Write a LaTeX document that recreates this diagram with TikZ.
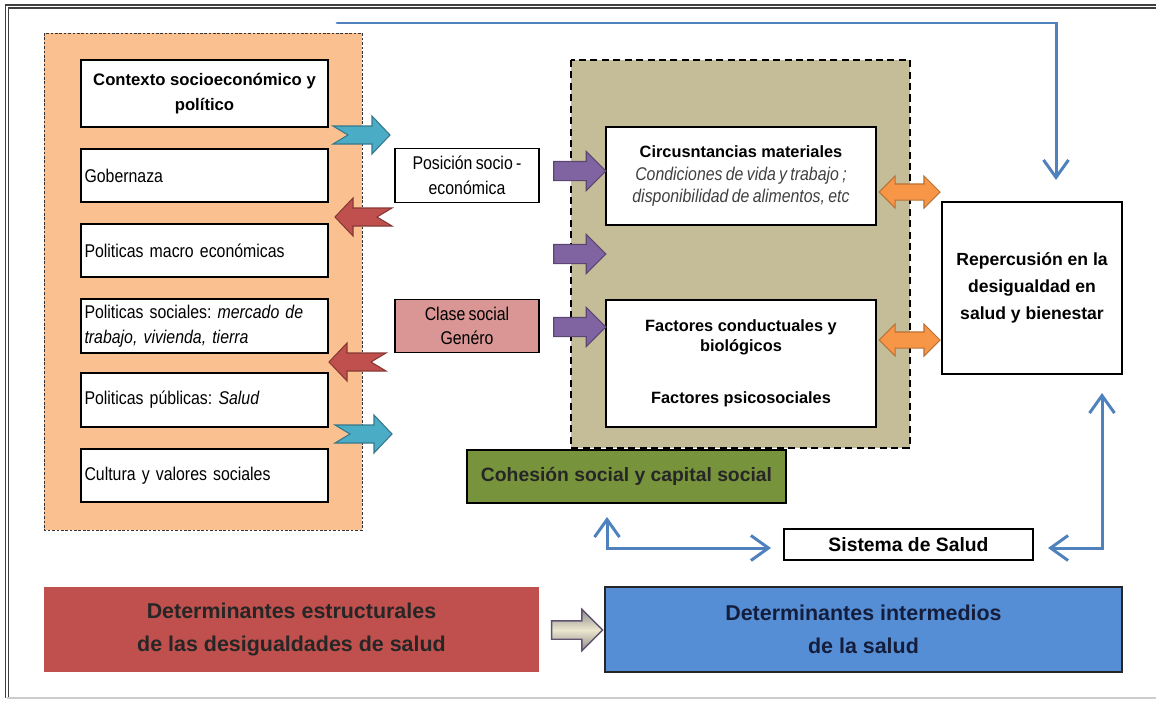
\documentclass[tikz,border=0pt]{standalone}
\usepackage{fontspec}
\setmainfont{Liberation Sans}
\newfontfamily\narrowfont[FakeStretch=0.86,WordSpace=0.75]{Liberation Sans}
\newcommand\detailfont{\mdseries\itshape\narrowfont\fontsize{10.5}{14}\selectfont\color{black!75}}
\usetikzlibrary{shapes.arrows,arrows.meta}

\definecolor{panelorange}{RGB}{250,192,143}
\definecolor{paneltan}{RGB}{196,189,151}
\definecolor{arrowteal}{RGB}{75,172,198}
\definecolor{arrowred}{RGB}{192,80,77}
\definecolor{arrowpurple}{RGB}{128,100,162}
\definecolor{arroworange}{RGB}{247,150,70}
\definecolor{classpink}{RGB}{217,150,148}
\definecolor{cohesiongreen}{RGB}{119,147,60}
\definecolor{intermblue}{RGB}{85,142,213}
\definecolor{flowblue}{RGB}{79,129,189}

\begin{document}
\begin{tikzpicture}[
    x=0.02cm, y=-0.02cm,
    box/.style={draw, line width=1.1pt, fill=white, inner sep=2pt},
    leftbox/.style={box, text width=4.8cm, minimum height=1.07cm, align=left,
      font=\narrowfont\fontsize{10.5}{14}\selectfont\frenchspacing},
    smallbox/.style={draw, line width=0.8pt, minimum width=2.88cm,
      minimum height=1.07cm, align=center, inner sep=1pt,
      font=\narrowfont\fontsize{10.5}{14}\selectfont},
    bigbox/.style={draw=none, minimum height=1.7cm, align=center,
      font=\bfseries\fontsize{12.2}{18.7}\selectfont},
    notch arrow/.pic={
      \draw[pic actions, line width=0.6pt]
        (-28.5,-9) -- (10.5,-9) -- (10.5,-19) -- (28.5,0) -- (10.5,19)
        -- (10.5,9) -- (-28.5,9) -- (-13.5,0) -- cycle;
    },
    purplearrow/.style={single arrow, draw=arrowpurple!70!black, fill=arrowpurple,
      line width=0.6pt, inner xsep=0pt, inner ysep=0.18cm, minimum height=1.04cm,
      single arrow head extend=0.2cm},
    orangearrow/.style={double arrow, draw=arroworange!75!black, fill=arroworange,
      line width=0.6pt, inner xsep=0pt, inner ysep=0.15cm, minimum height=1.22cm,
      double arrow head extend=0.16cm},
    flow/.style={draw=flowblue, line width=1.7pt, line cap=round,
      arrows={-Straight Barb[length=3.5mm,width=5mm]}},
    bothflow/.style={flow, arrows={Straight Barb[length=3.5mm,width=5mm]-Straight Barb[length=3.5mm,width=5mm]}}
  ]
    \useasboundingbox (0,0) rectangle (1156,700);

    % frame
    \draw[black!75, double, double distance=1.1pt, line width=0.6pt]
      (1156,6.5) -- (7,6.5) -- (7,698);
    \draw[black!20, line width=0.8pt] (7,698) -- (1156,698);

    % panels
    \draw[fill=panelorange, draw=black!80, line width=0.5pt,
      dash pattern=on 1.5pt off 1pt] (44,33) rectangle (362,530);
    \draw[fill=paneltan, line width=1pt, dash pattern=on 4pt off 2.5pt]
      (571,60) rectangle (910,448);

    % structural column
    \node[box, minimum width=4.94cm, minimum height=1.34cm, align=center,
      font=\bfseries\fontsize{9.5}{14}\selectfont] (ctx) at (204.5,93.5)
      {Contexto socioeconómico y\\político};
    \node[leftbox] (gob) at (204.5,175.5) {Gobernaza};
    \node[leftbox] (macro) at (204.5,250.5) {Politicas macro económicas};
    \node[leftbox] (soc) at (204.5,326)
      {Politicas sociales: \textit{mercado de}\\\textit{trabajo, vivienda, tierra}};
    \node[leftbox] (pub) at (204.5,400) {Politicas públicas: \textit{Salud}};
    \node[leftbox] (cult) at (204.5,475.5) {Cultura y valores sociales};

    % position
    \node[smallbox, fill=white] (pos) at (467,175.5) {Posición socio -\\económica};
    \node[smallbox, fill=classpink] (clase) at (467,326) {Clase social\\Genéro};

    % intermediary
    \node[box, minimum width=5.4cm, minimum height=1.96cm, align=center,
      font=\bfseries\fontsize{9.3}{13}\selectfont] (circ) at (741,176)
      {Circusntancias materiales\\
       \detailfont Condiciones de vida y trabajo ;\\
       \detailfont disponibilidad de alimentos, etc};
    \node[box, minimum width=5.4cm, minimum height=2.54cm, align=center,
      font=\bfseries\fontsize{9.3}{11.5}\selectfont] (fact) at (741,363.5)
      {Factores conductuales y\\biológicos\\[18pt]Factores psicosociales};
    \node[box, minimum width=3.6cm, minimum height=3.44cm, align=center,
      font=\bfseries\fontsize{10}{15.3}\selectfont] (rep) at (1032,288)
      {Repercusión en la\\desigualdad en\\salud y bienestar};
    \node[draw, line width=0.8pt, fill=cohesiongreen, minimum width=6.38cm,
      minimum height=1.06cm, font=\bfseries\fontsize{11}{14}\selectfont,
      text=black!85] (coh) at (626.5,476.5) {Cohesión social y capital social};
    \node[box, minimum width=4.98cm, minimum height=0.62cm,
      font=\bfseries\fontsize{11}{14}\selectfont] (sis) at (908.5,544.5)
      {Sistema de Salud};

    % legend
    \node[bigbox, fill=arrowred, minimum width=9.9cm, text=black!85] (estr)
      at (291.5,629.5) {Determinantes estructurales\\de las desigualdades de salud};
    \node[bigbox, draw=black!85, line width=1pt, fill=intermblue,
      minimum width=10.34cm, text={rgb,255:red,20;green,30;blue,60}] (interm)
      at (863.5,629.5) {Determinantes intermedios\\de la salud};

    % block arrows
    \pic[fill=arrowteal, draw=arrowteal!70!black] at (361.5,135) {notch arrow};
    \pic[fill=arrowred, draw=arrowred!70!black, rotate=180] at (363.5,217) {notch arrow};
    \pic[fill=arrowred, draw=arrowred!70!black, rotate=180] at (357.5,362) {notch arrow};
    \pic[fill=arrowteal, draw=arrowteal!70!black] at (363.5,434) {notch arrow};

    \node[purplearrow] (pa1) at (575,171) {};
    \node[purplearrow] (pa2) at (575,254) {};
    \node[purplearrow] (pa3) at (575,327) {};

    \node[orangearrow] (oa1) at (909.5,192) {};
    \node[orangearrow] (oa2) at (909.5,340) {};

    \node[single arrow, draw={rgb,255:red,95;green,82;blue,112}, line width=0.8pt,
      top color=black!45, bottom color=black!45,
      middle color={rgb,255:red,235;green,230;blue,205},
      inner xsep=0pt, inner ysep=0.17cm, minimum height=1.02cm,
      single arrow head extend=0.23cm] (ga) at (572.5,630) {};

    % connectors
    \coordinate (topstart) at (337,23);
    \coordinate (repin) at (1056,180);
    \coordinate (cohout) at (607,517);
    \coordinate (sisleft) at (771,548);
    \coordinate (repout) at (1102,393);
    \coordinate (sisright) at (1048,548);

    \draw[flow] (topstart) -| (repin);
    \draw[bothflow] (cohout) |- (sisleft);
    \draw[bothflow] (repout) |- (sisright);
  \end{tikzpicture}
\end{document}
